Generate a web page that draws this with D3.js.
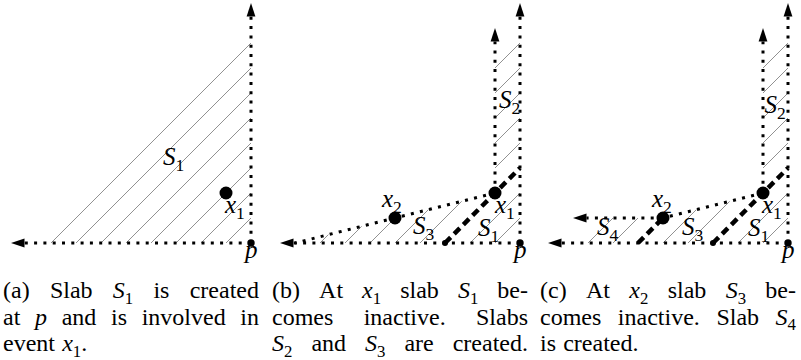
<!DOCTYPE html>
<html>
<head>
<meta charset="utf-8">
<script src="https://cdn.jsdelivr.net/npm/d3@7"></script>
<style>
body { margin: 0; background: #fff; }
svg { display: block; }
</style>
</head>
<body>
<script>
// x pixel of point p in each panel, and pixel y of the bottom line
var panelX = [251, 520, 788];
var baseY = 243;

// geometry in slab units: p = (0,0), y grows upwards
var ptX1 = [-1, 2];
var ptX2 = [-5, 1];
var hatchA = [1, 2, 3, 4, 5, 6, 7, 8];
var hatchS1 = [1, 2];
var hatchS2 = [4, 5, 6, 7, 8];
var hatchS3b = [4, 5, 6, 7, 8];
var hatchS3c = [4, 5];
var hatchS4 = [7, 8];
var rightTop = 9.6, innerTop = 8.6, bottomEnd = -9.6, slantEnd = [-9, 0], s4End = -8.6;

// labels: text, x, y (slab units, left edge / baseline)
var labelsA = [["$S_1$", -3.52, 3.12], ["$x_1$", -1.04, 1.2], ["$p$", -0.24, -0.6]];
var labelsB = [["$S_2$", -0.84, 5.4], ["$x_2$", -5.52, 1.44], ["$x_1$", -1.0, 1.2],
               ["$S_3$", -4.28, 0.36], ["$S_1$", -1.68, 0.3], ["$p$", -0.24, -0.6]];
var labelsC = [["$S_2$", -0.94, 5.2], ["$x_2$", -5.44, 1.44], ["$x_1$", -1.04, 1.2],
               ["$S_4$", -7.64, 0.32], ["$S_3$", -4.24, 0.32], ["$S_1$", -1.6, 0.3], ["$p$", -0.24, -0.6]];

var captionA = ["(a) Slab $S_1$ is created", "at $p$ and is involved in", "event $x_1$."];
var captionB = ["(b) At $x_1$ slab $S_1$ be-", "comes inactive. Slabs", "$S_2$ and $S_3$ are created."];
var captionC = ["(c) At $x_2$ slab $S_3$ be-", "comes inactive. Slab $S_4$", "is created."];

var W = 801, H = 360;
var font = "'Liberation Serif', serif";

var svg = d3.select("body").append("svg")
    .attr("width", W)
    .attr("height", H);

var ux = d3.scaleLinear().domain([-10, 0]).range([-250, 0]);
var uy = d3.scaleLinear().domain([0, 10]).range([baseY, baseY - 250]);

function pt(d) { return [ux(d[0]), uy(d[1])]; }

function hatch(g, a, b) {
    var p = pt(a), q = pt(b);
    g.append("line")
        .attr("x1", p[0]).attr("y1", p[1])
        .attr("x2", q[0]).attr("y2", q[1])
        .attr("stroke", "#858585")
        .attr("stroke-width", 0.9);
}

function dotted(g, a, b) {
    g.append("line")
        .attr("x1", a[0]).attr("y1", a[1])
        .attr("x2", b[0]).attr("y2", b[1])
        .attr("stroke", "#000")
        .attr("stroke-width", 3)
        .attr("stroke-dasharray", "3 6.3");
}

function dashed(g, a, b) {
    var p = pt(a), q = pt(b);
    g.append("line")
        .attr("x1", p[0]).attr("y1", p[1])
        .attr("x2", q[0]).attr("y2", q[1])
        .attr("stroke", "#000")
        .attr("stroke-width", 4.5)
        .attr("stroke-dasharray", "8 5");
}

// dotted line ending in an arrow head
function arrowLine(g, from, to) {
    var a = pt(from), b = pt(to);
    var dx = b[0] - a[0], dy = b[1] - a[1], L = Math.hypot(dx, dy);
    var ex = dx / L, ey = dy / L;
    var bx = b[0] - ex * 13.5, by = b[1] - ey * 13.5;
    dotted(g, a, [bx, by]);
    g.append("path")
        .attr("d", "M" + b[0] + "," + b[1] +
            "L" + (bx - ey * 4.4) + "," + (by + ex * 4.4) +
            "L" + (bx + ey * 4.4) + "," + (by - ex * 4.4) + "Z")
        .attr("fill", "#000");
}

function dot(g, d, r) {
    var p = pt(d);
    g.append("circle").attr("cx", p[0]).attr("cy", p[1]).attr("r", r).attr("fill", "#000");
}

// where the diagonal y = x + k meets the line through P and Q
function meet(k, P, Q) {
    var m = (Q[1] - P[1]) / (Q[0] - P[0]);
    var x = (P[1] - m * P[0] - k) / (1 - m);
    return [x, x + k];
}

// rich text: $...$ is math (italic, _d subscript)
function richText(sel, str, size) {
    var math = false, shift = 0;
    function add(t, italic, sub) {
        var want = sub ? size * 0.24 : 0;
        sel.append("tspan")
            .attr("dy", want - shift)
            .attr("font-style", italic ? "italic" : "normal")
            .attr("font-size", sub ? size * 0.7 : size)
            .text(t);
        shift = want;
    }
    for (var i = 0; i < str.length; i++) {
        var c = str[i];
        if (c === "$") { math = !math; continue; }
        if (math && c === "_") { add(str[i + 1], false, true); i++; continue; }
        add(c, math && /[A-Za-z]/.test(c), false);
    }
}

function label(g, l) {
    var t = g.append("text")
        .attr("x", ux(l[1])).attr("y", uy(l[2]))
        .attr("font-family", font)
        .attr("font-size", 25);
    richText(t, l[0], 25);
}

// justified caption; short last lines keep natural spacing
function caption(g, lines, left, width) {
    var size = 24, lead = 26.5, top = 298;
    lines.forEach(function(line, li) {
        var words = line.split(" ");
        var nodes = words.map(function(w) {
            var t = g.append("text")
                .attr("y", top + li * lead)
                .attr("font-family", font)
                .attr("font-size", size);
            richText(t, w, size);
            return t;
        });
        var widths = nodes.map(function(t) { return t.node().getComputedTextLength(); });
        var total = d3.sum(widths);
        var natural = total + size * 0.3 * (words.length - 1);
        var gap = natural > width * 0.7 ? (width - total) / (words.length - 1) : size * 0.3;
        var x = left;
        nodes.forEach(function(t, i) {
            t.attr("x", x);
            x += widths[i] + gap;
        });
    });
}

var gs = panelX.map(function(px) {
    return svg.append("g").attr("transform", "translate(" + px + ",0)");
});

// panel (a)
var ga = gs[0];
hatchA.forEach(function(k) { hatch(ga, [-k, 0], [0, k]); });
arrowLine(ga, [0, 0], [bottomEnd, 0]);
arrowLine(ga, [0, 0], [0, rightTop]);
dot(ga, ptX1, 6.5);
dot(ga, [0, 0], 3.7);

// panels (b) and (c)
[1, 2].forEach(function(i) {
    var g = gs[i];
    hatchS1.forEach(function(k) { hatch(g, [-k, 0], [0, k]); });
    hatchS2.forEach(function(k) { hatch(g, [-1, k - 1], [0, k]); });
    var s3 = i === 1 ? hatchS3b : hatchS3c;
    var far = i === 1 ? slantEnd : ptX2;
    s3.forEach(function(k) { hatch(g, [-k, 0], meet(k, ptX1, ptX2)); });
    if (i === 2) hatchS4.forEach(function(k) { hatch(g, [-k, 0], [-k + 1, 1]); });

    arrowLine(g, [0, 0], [bottomEnd, 0]);
    arrowLine(g, [0, 0], [0, rightTop]);
    arrowLine(g, ptX1, [ptX1[0], innerTop]);
    dotted(g, pt(ptX1), pt(far));
    if (i === 2) arrowLine(g, ptX2, [s4End, ptX2[1]]);

    dashed(g, [-3, 0], [0, 3]);
    dot(g, [-3, 0], 3);
    if (i === 2) dashed(g, [-6, 0], ptX2);

    dot(g, ptX1, 6.5);
    dot(g, ptX2, 6.5);
    dot(g, [0, 0], 3.7);
});

labelsA.forEach(function(l) { label(gs[0], l); });
labelsB.forEach(function(l) { label(gs[1], l); });
labelsC.forEach(function(l) { label(gs[2], l); });

[captionA, captionB, captionC].forEach(function(c, i) {
    caption(svg, c, panelX[i] - 248, 256);
});
</script>
</body>
</html>
